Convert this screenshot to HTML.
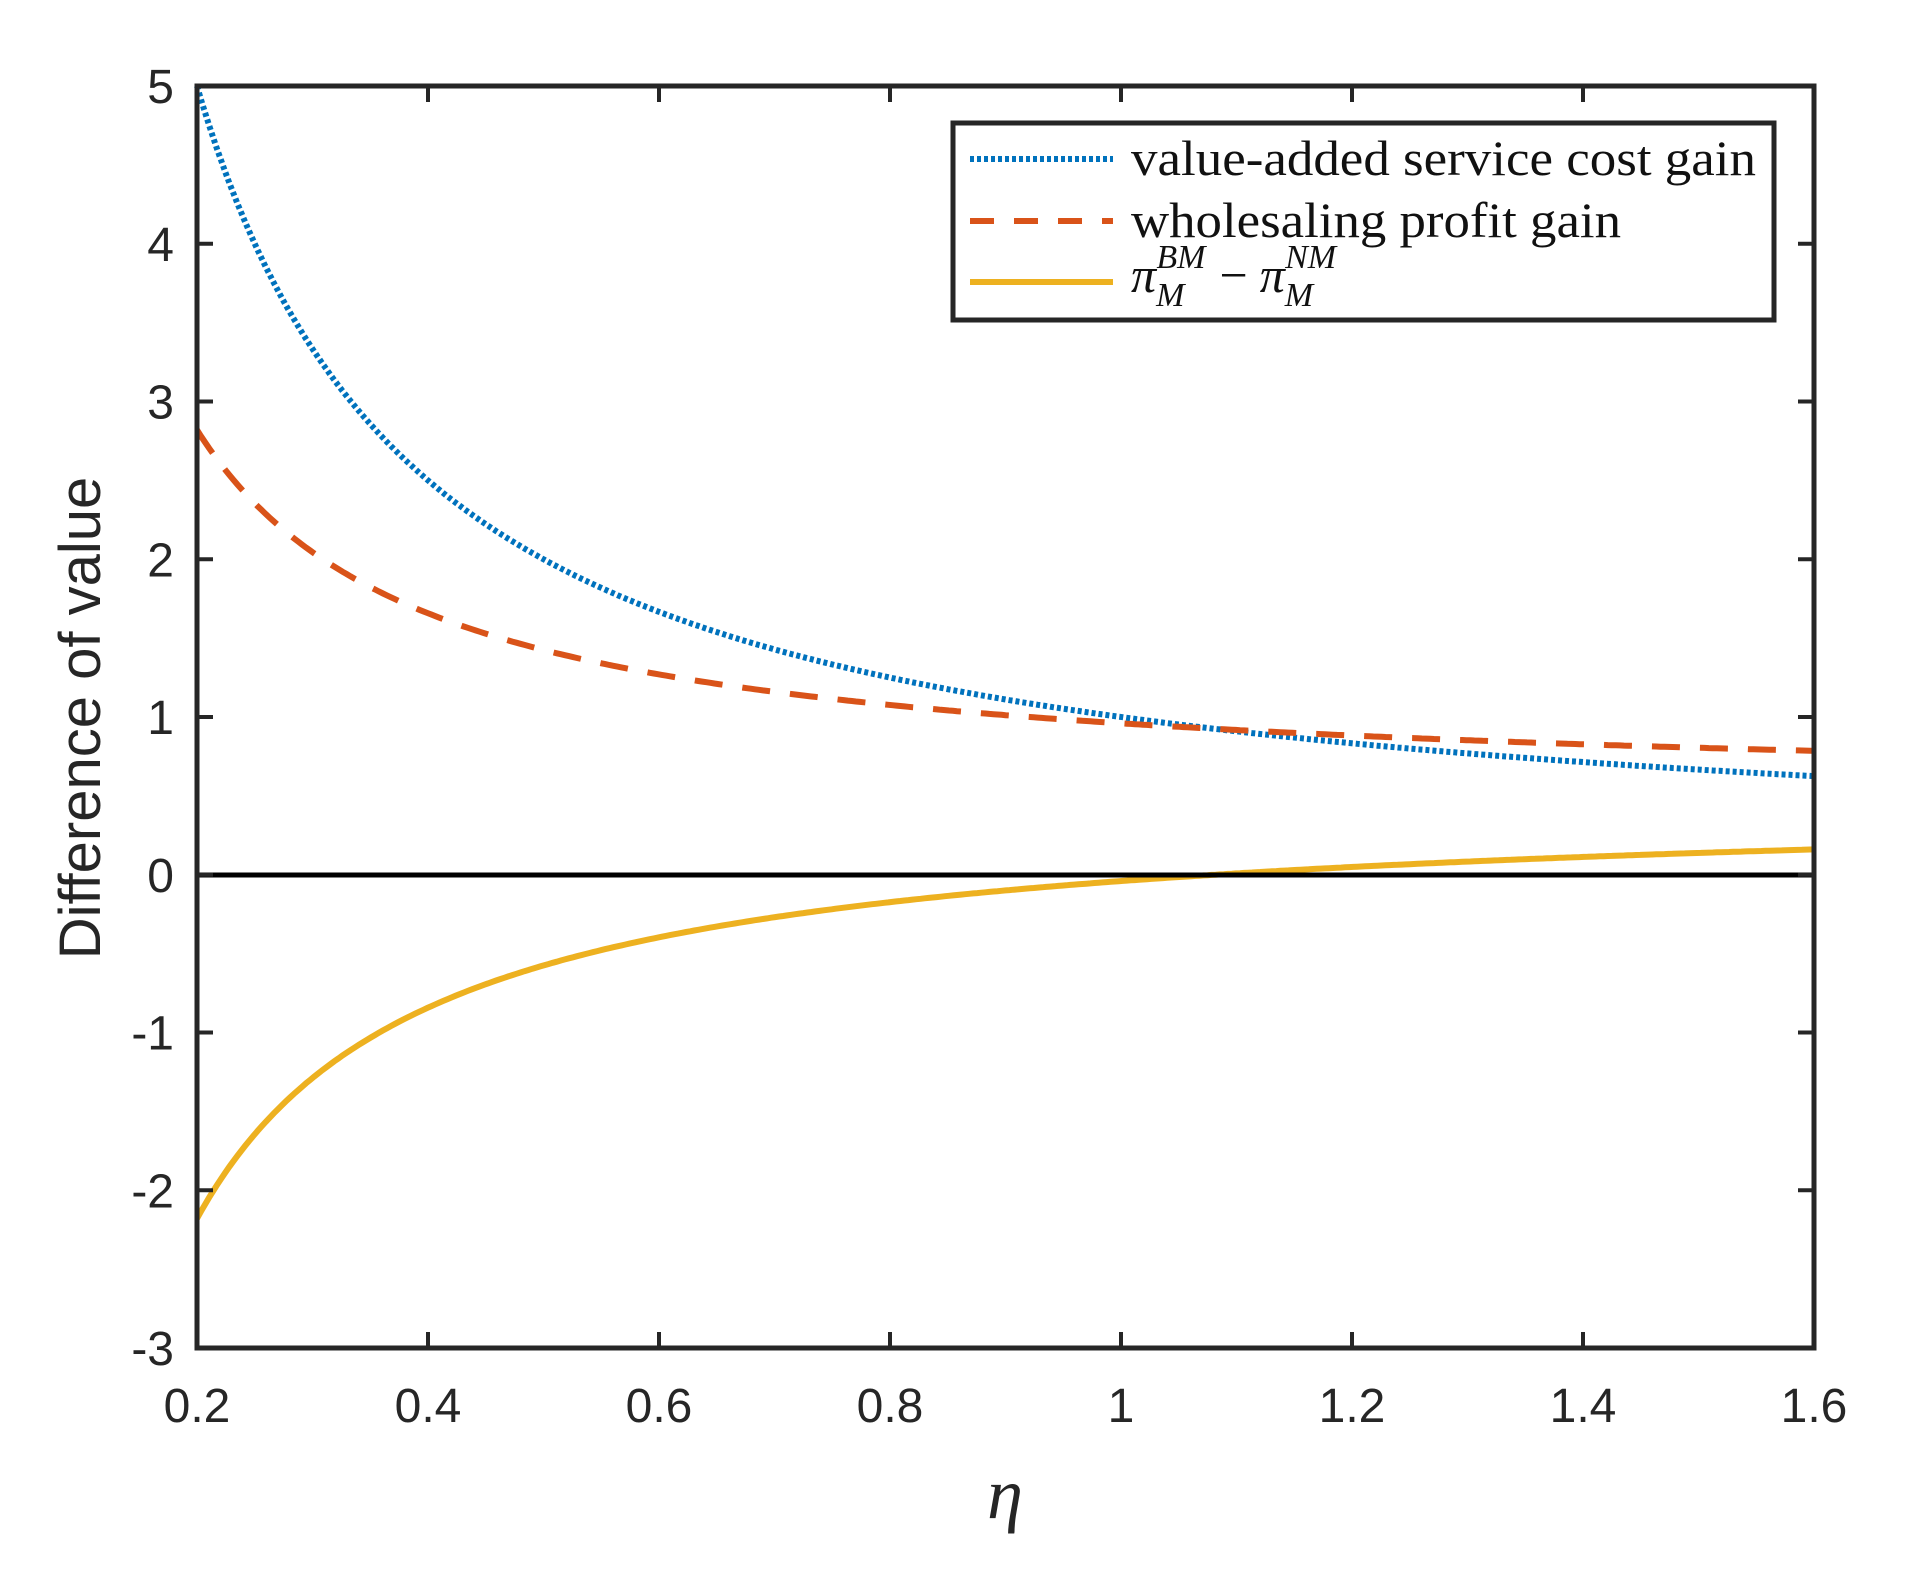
<!DOCTYPE html>
<html><head><meta charset="utf-8"><style>
html,body{margin:0;padding:0;background:#fff;}
</style></head><body>
<svg id="s" width="1906" height="1582" xmlns="http://www.w3.org/2000/svg" style="display:block">
<rect width="1906" height="1582" fill="#fff"/>
<g id="curves"></g>
<line x1="197" y1="875" x2="1814" y2="875" stroke="#000" stroke-width="5"/>
<g id="ticks" stroke="#262626" stroke-width="4"></g>
<rect x="197" y="86" width="1617" height="1262" fill="none" stroke="#262626" stroke-width="5"/>
<g id="labels" font-family="Liberation Sans, Arial, sans-serif" font-size="48" fill="#262626"></g>
<text transform="translate(100,718) rotate(-90)" text-anchor="middle" font-family="Liberation Sans, Arial, sans-serif" font-size="58" fill="#262626">Difference of value</text>
<text x="1005" y="1518" text-anchor="middle" font-family="Liberation Serif, serif" font-style="italic" font-size="72" fill="#262626">η</text>
<rect x="953" y="123" width="821" height="197" fill="#fff" stroke="#262626" stroke-width="5"/>
<line x1="970" y1="159" x2="1113" y2="159" stroke="#0072BD" stroke-width="6" stroke-dasharray="4,3"/>
<line x1="970" y1="221" x2="1113" y2="221" stroke="#D95319" stroke-width="6" stroke-dasharray="24,20"/>
<line x1="970" y1="282" x2="1113" y2="282" stroke="#EDB120" stroke-width="6"/>
<g font-family="Liberation Serif, serif" font-size="50" fill="#111">
<text x="1131" y="175" textLength="625" lengthAdjust="spacingAndGlyphs">value-added service cost gain</text>
<text x="1131" y="237" textLength="490" lengthAdjust="spacingAndGlyphs">wholesaling profit gain</text>
<text x="1131" y="292" font-style="italic">π<tspan font-size="34" dy="14">M</tspan><tspan font-size="34" dx="-28" dy="-38">BM</tspan><tspan font-style="normal" dy="24" dx="14">−</tspan><tspan dx="12">π</tspan><tspan font-size="34" dy="14">M</tspan><tspan font-size="34" dx="-28" dy="-38">NM</tspan></text>
</g>
</svg>
<script>
var L=197,R=1814,T=86,B=1348;
function X(e){return L+(e-0.2)/1.4*(R-L);}
function Y(v){return T+(5-v)/8*(B-T);}
function path(f){var d="";for(var i=0;i<=400;i++){var e=0.2+1.4*i/400;d+=(i?"L":"M")+X(e).toFixed(1)+","+Y(f(e)).toFixed(1);}return d;}
var NS="http://www.w3.org/2000/svg";
function add(par,tag,attrs,txt){var el=document.createElementNS(NS,tag);for(var k in attrs)el.setAttribute(k,attrs[k]);if(txt!==undefined)el.textContent=txt;document.getElementById(par).appendChild(el);return el;}
var a=0.495,b=0.465;
add("curves","path",{d:path(function(e){return 1/e;}),fill:"none",stroke:"#0072BD","stroke-width":6,"stroke-dasharray":"4,3"});
add("curves","path",{d:path(function(e){return a+b/e;}),fill:"none",stroke:"#D95319","stroke-width":6,"stroke-dasharray":"28,20"});
add("curves","path",{d:path(function(e){return a+b/e-1/e;}),fill:"none",stroke:"#EDB120","stroke-width":6});
var xs=[0.2,0.4,0.6,0.8,1,1.2,1.4,1.6];
xs.forEach(function(v){var x=X(v);
 add("ticks","line",{x1:x,y1:B,x2:x,y2:B-16});add("ticks","line",{x1:x,y1:T,x2:x,y2:T+16});
 add("labels","text",{x:x,y:1422,"text-anchor":"middle"},String(v));});
for(var v=-3;v<=5;v++){var y=Y(v);
 add("ticks","line",{x1:L,y1:y,x2:L+16,y2:y});add("ticks","line",{x1:R,y1:y,x2:R-16,y2:y});
 add("labels","text",{x:174,y:y+17,"text-anchor":"end"},String(v));}
</script>
</body></html>
